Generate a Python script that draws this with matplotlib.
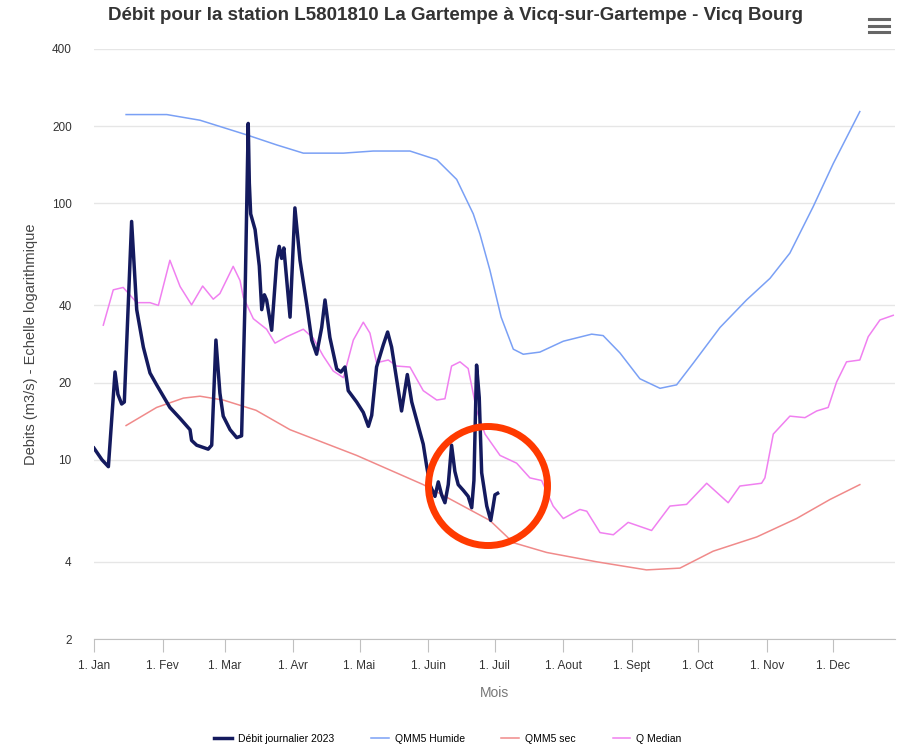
import matplotlib
matplotlib.use("Agg")
import matplotlib.pyplot as plt
from matplotlib.lines import Line2D
from matplotlib.patches import Ellipse

plt.rcParams['font.family'] = ['Liberation Sans', 'DejaVu Sans']

# month starts (day of year, 0 = 1 Jan)
month_days = [0, 31, 59, 90, 120, 151, 181, 212, 243, 273, 304, 334]
month_labels = ['1. Jan', '1. Fev', '1. Mar', '1. Avr', '1. Mai', '1. Juin',
                '1. Juil', '1. Aout', '1. Sept', '1. Oct', '1. Nov', '1. Dec']
y_ticks = [2, 4, 10, 20, 40, 100, 200, 400]

# Débit journalier 2023
debit_days = [0, 3.6, 6.5, 9.5, 10.8, 12.5, 13.7, 17.0, 19.3, 22.3, 25.3, 28.3,
              34.3, 38.9, 43.4, 44.1, 46.4, 51.6, 53.2, 55.1, 56.9, 58.4, 61.5,
              64.5, 66.7, 68.2, 69.7, 70.2, 70.8, 72.8, 74.7, 75.8, 77.0, 78.0,
              80.3, 82.6, 83.7, 84.8, 85.8, 88.6, 90.8, 93.1, 96.1, 98.4, 100.6,
              102.9, 104.4, 106.6, 109.7, 111.6, 113.4, 114.9, 118.7, 121.7,
              124.0, 125.5, 127.7, 130.7, 132.7, 134.5, 136.8, 139.0, 141.6,
              143.6, 145.8, 148.8, 150.3, 151.8, 154.1, 155.6, 157.1, 158.6,
              160.1, 161.6, 163.1, 164.6, 166.9, 169.1, 170.7, 171.7, 172.9,
              174.1, 175.2, 177.5, 179.3, 180.4, 181.2, 182.4]
debit_vals = [11.1, 10.0, 9.4, 22, 18, 16.5, 16.8, 85, 38.5, 27.5, 21.8, 19.6,
              16.0, 14.5, 13.1, 11.9, 11.4, 11.0, 11.4, 29.3, 18.2, 14.8, 13.1,
              12.2, 12.4, 40, 205, 120, 91, 79, 57, 38.5, 44, 42,
              32, 60, 68, 61, 67, 36, 96, 60, 40.6, 29.3, 25.8,
              32.8, 42, 30, 22.6, 22, 23, 18.6, 16.8, 15.3,
              13.5, 14.9, 23, 28, 31.5, 27.5, 20.5, 15.5, 21.5,
              16.8, 14.3, 11.5, 9.5, 8.0, 7.2, 8.2, 7.3, 6.8,
              8.0, 11.4, 9.0, 8.0, 7.6, 7.2, 6.5, 8.3, 23.4,
              17.5, 8.9, 6.6, 5.8, 6.6, 7.3, 7.4]

# QMM5 Humide
humide_days = [14.5, 32.9, 47.9, 69.0, 82.6, 94.6, 112.7, 126.2, 142.8, 154.9,
               163.9, 171.4, 174.4, 178.9, 184.0, 189.5, 194.0, 201.5, 212.1,
               224.9, 230.1, 237.7, 246.7, 255.8, 263.3, 270.8, 282.9, 294.9,
               305.5, 314.5, 325.0, 334.1, 346.1]
humide_vals = [222, 222, 211, 185, 169, 157, 157, 160, 160, 148,
               124, 91, 76, 55, 36, 27, 25.8, 26.3, 29.0,
               30.9, 30.5, 26.1, 20.7, 19.0, 19.6, 23.8, 32.8, 42,
               51, 64, 97, 143, 228]

# QMM5 sec
sec_days = [14.5, 28.3, 40.4, 47.9, 58.4, 73.2, 88.6, 118.7, 148.8, 178.9,
            189.5, 204.6, 227.2, 249.7, 264.8, 279.8, 299.5, 317.5, 332.6, 346.1]
sec_vals = [13.6, 16.0, 17.4, 17.7, 17.1, 15.6, 13.1, 10.4, 8.0, 5.8,
            4.75, 4.35, 4.0, 3.72, 3.78, 4.4, 5.0, 5.9, 7.0, 8.0]

# Q Median
median_days = [4.2, 8.7, 13.2, 19.3, 25.3, 29.1, 34.3, 38.9, 44.1, 49.1, 53.9,
               56.9, 62.9, 66.0, 67.5, 72.0, 78.0, 81.8, 87.1, 94.6, 99.1,
               103.6, 108.1, 112.7, 117.2, 121.7, 124.7, 127.7, 133.0, 136.8,
               142.8, 148.8, 154.9, 158.6, 161.6, 165.4, 169.1, 172.9, 176.7,
               183.5, 191.0, 197.0, 202.3, 207.5, 212.1, 219.6, 222.7, 228.7,
               234.7, 241.4, 252.0, 260.3, 267.8, 276.9, 286.6, 291.9, 301.7,
               303.2, 307.0, 314.5, 321.3, 326.6, 331.8, 335.6, 340.1, 346.1,
               349.9, 355.2, 361.2]
median_vals = [33.5, 46, 47, 41, 41, 40, 60, 47.4, 40.2, 47.6, 42.3,
               44.5, 56.8, 50, 43, 35.5, 32.3, 28.5, 30.2, 32.3, 29.8,
               25.4, 22.2, 20.9, 29.3, 34.4, 31.2, 23.9, 24.5, 23.2,
               23, 18.6, 17.1, 17.3, 23.2, 24.1, 22.7, 15.6, 12.6,
               10.4, 9.7, 8.5, 8.3, 6.6, 5.9, 6.4, 6.3, 5.2,
               5.1, 5.7, 5.3, 6.6, 6.7, 8.1, 6.8, 7.9, 8.1,
               8.5, 12.6, 14.8, 14.6, 15.5, 16, 20.1, 24.1, 24.5,
               30.2, 35.1, 36.6]

W, H = 900, 746
fig = plt.figure(figsize=(9, 7.46), dpi=100)
ax = fig.add_axes([94 / W, (H - 639) / H, 801 / W, 590 / H])

ax.plot(humide_days, humide_vals, color='#7aa0f5', lw=1.1, label='QMM5 Humide', zorder=2)
ax.plot(sec_days, sec_vals, color='#f08a8a', lw=1.1, label='QMM5 sec', zorder=2)
ax.plot(median_days, median_vals, color='#f080f0', lw=1.1, label='Q Median', zorder=2)
ax.plot(debit_days, debit_vals, color='#141a5e', lw=2.5, label='Débit journalier 2023',
        zorder=3, solid_joinstyle='round')

ax.set_yscale('log')
ax.set_ylim(2, 400)
ax.set_xlim(0, 362)
ax.set_yticks(y_ticks)
ax.set_yticklabels([str(v) for v in y_ticks])
ax.yaxis.set_minor_locator(matplotlib.ticker.NullLocator())
ax.set_xticks(month_days)
ax.set_xticklabels(month_labels)

ax.grid(axis='y', color='#e6e6e6', lw=1)
ax.set_axisbelow(True)
for s in ['top', 'right', 'left']:
    ax.spines[s].set_visible(False)
ax.spines['bottom'].set_color('#c0c0c0')
ax.tick_params(axis='y', length=0, labelsize=8.5, labelcolor='#333333', pad=16)
ax.tick_params(axis='x', length=9, color='#c0c0c0', labelsize=8.5, labelcolor='#333333', pad=6)

ax.set_ylabel('Debits (m3/s) - Echelle logarithmique', fontsize=10.5, color='#444444', labelpad=10)
ax.set_xlabel('Mois', fontsize=10, color='#777777', labelpad=10)

fig.text(455 / W, 1 - 16 / H, 'Débit pour la station L5801810 La Gartempe à Vicq-sur-Gartempe - Vicq Bourg',
         ha='center', va='center', fontsize=13.5, fontweight='bold', color='#333333')

# export menu icon
for yy in [19, 25.5, 32]:
    fig.add_artist(Line2D([869 / W, 889 / W], [1 - yy / H, 1 - yy / H],
                          color='#666666', lw=2.2, transform=fig.transFigure))

# red circle highlight
fig.add_artist(Ellipse((488 / W, 1 - 486 / H), 119 / W, 119 / H, transform=fig.transFigure,
                       fill=False, ec='#ff3a00', lw=5, zorder=10))

handles, labels = ax.get_legend_handles_labels()
order = [3, 0, 1, 2]
fig.legend([handles[i] for i in order], [labels[i] for i in order],
           loc='center', bbox_to_anchor=(448 / W, 1 - 739 / H), ncol=4, frameon=False,
           fontsize=7.5, handlelength=1.7, handletextpad=0.6, columnspacing=3.5)

fig.savefig('out.png', dpi=100, facecolor='white')
